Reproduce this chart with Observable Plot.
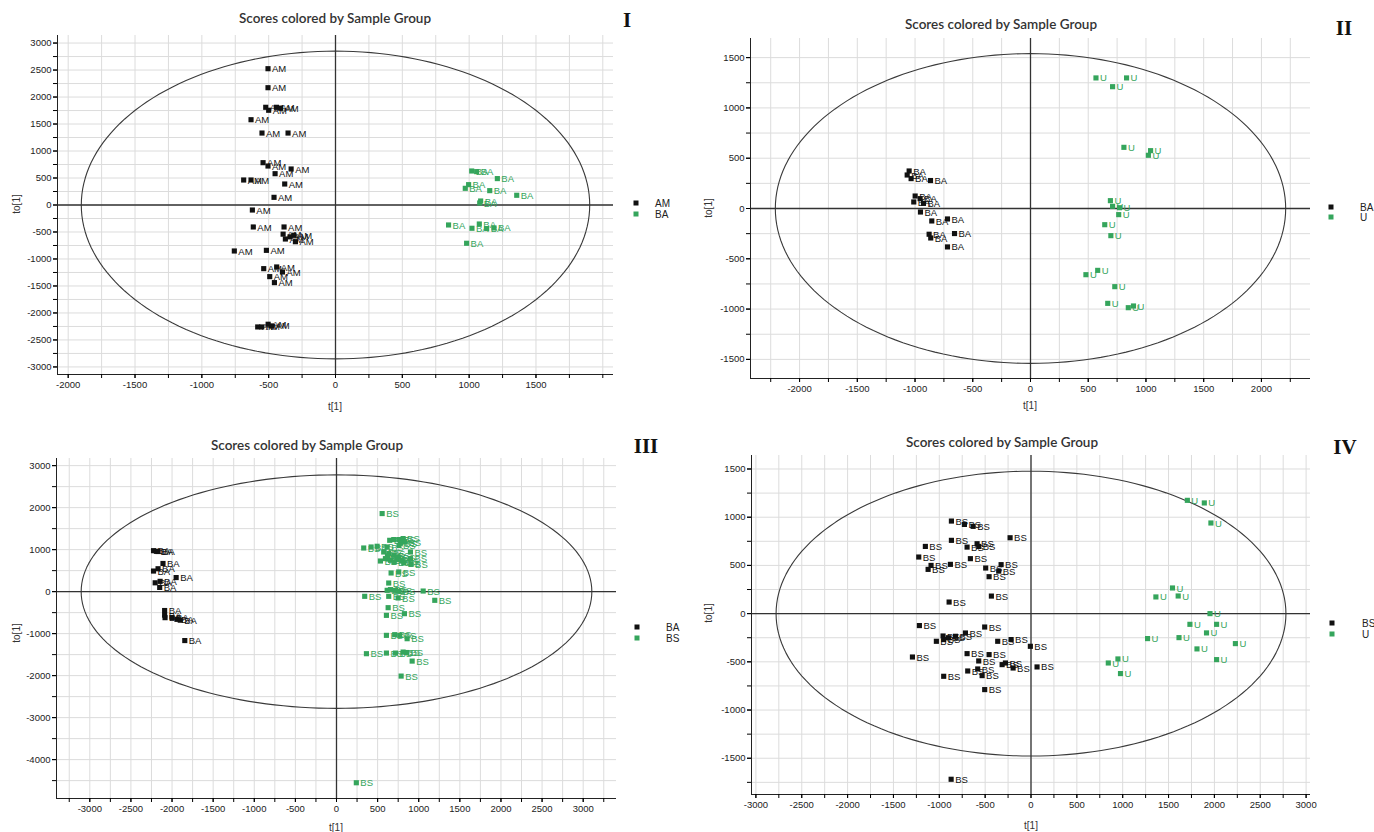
<!DOCTYPE html>
<html><head><meta charset="utf-8">
<script src="https://cdn.jsdelivr.net/npm/d3@7"></script>
<script src="https://cdn.jsdelivr.net/npm/@observablehq/plot@0.6"></script>
<style>
html,body{margin:0;padding:0;background:#fff;}
#root{position:relative;width:1374px;height:832px;overflow:hidden;background:#fff;font-family:"Liberation Sans",Arial,sans-serif;}
.panel{position:absolute;}
.title{position:absolute;font-family:Lato,"Open Sans",sans-serif;font-size:13.5px;font-weight:600;color:#333;transform:translate(-50%,-50%);white-space:nowrap;}
.roman{position:absolute;font-family:"Liberation Serif","Times New Roman",serif;font-weight:bold;font-size:21px;color:#111;transform:translate(-50%,-50%);}
.lab{position:absolute;font-size:10px;color:#333;transform:translate(-50%,-50%);white-space:nowrap;}
.ylab{position:absolute;font-size:10px;color:#333;transform:translate(-50%,-50%) rotate(-90deg);white-space:nowrap;}
.legsq{position:absolute;width:5px;height:5px;transform:translate(-50%,-50%);}
.legtx{position:absolute;font-size:10px;color:#222;transform:translate(0,-50%);}
</style>
</head><body><div id="root"></div>
<script>
const black = "#111111", green = "#35a55c";
const titleText = "Scores colored by Sample Group";

// ---- Panel I ----
const p1AM = [[-505,2525],[-505,2173],[-522,1810],[-500,1755],[-442,1810],[-412,1795],[-632,1580],[-550,1333],[-355,1333],[-542,784],[-505,722],[-332,667],[-452,580],[-687,463],[-632,463],[-380,389],[-460,142],[-622,-93],[-615,-407],[-385,-407],[-392,-540],[-312,-560],[-375,-630],[-300,-680],[-340,-590],[-757,-852],[-517,-840],[-537,-1179],[-440,-1148],[-397,-1241],[-492,-1327],[-457,-1438],[-582,-2259],[-552,-2259],[-504,-2209],[-479,-2240]];
const p1BA = [[1019,630],[1056,618],[1211,489],[996,377],[971,309],[1154,266],[1356,180],[1086,74],[1079,37],[846,-370],[1076,-352],[1021,-431],[1131,-437],[1186,-425],[981,-709]];
const p1XTicks = [-2000,-1500,-1000,-500,0,500,1000,1500];
const p1YTicks = [-3000,-2500,-2000,-1500,-1000,-500,0,500,1000,1500,2000,2500,3000];

// ---- Panel II ----
const p2BA = [[-1051,373],[-1068,333],[-1034,297],[-866,278],[-999,124],[-956,98],[-1011,65],[-927,51],[-953,-35],[-855,-124],[-719,-104],[-878,-256],[-864,-293],[-658,-249],[-719,-382]];
const p2U = [[567,1298],[832,1298],[711,1211],[809,608],[1040,575],[1021,529],[692,78],[711,22],[771,8],[764,-61],[643,-161],[696,-270],[480,-658],[582,-615],[730,-777],[669,-943],[847,-986],[892,-969]];
const p2XTicks = [-2000,-1500,-1000,-500,0,500,1000,1500,2000];
const p2YTicks = [-1500,-1000,-500,0,500,1000,1500];

// ---- Panel III ----
const p3BA = [[-2225,975],[-2190,960],[-2170,955],[-2110,670],[-2170,545],[-2225,490],[-1950,335],[-2145,245],[-2205,210],[-2150,100],[-2090,-450],[-2090,-560],[-2085,-620],[-2000,-620],[-1940,-660],[-1900,-680],[-1845,-1165]];
const p3BS = [[555,1859],[647,1222],[696,1239],[757,1239],[810,1263],[826,1182],[777,1158],[331,1039],[421,1063],[494,1080],[616,1063],[574,944],[635,906],[696,865],[757,825],[899,944],[595,786],[656,746],[737,762],[798,729],[534,729],[899,786],[907,651],[818,682],[700,700],[620,850],[760,1100],[664,444],[757,468],[635,205],[616,31],[656,48],[717,31],[757,7],[1054,14],[343,-112],[635,-112],[749,-151],[1195,-207],[628,-382],[607,-565],[826,-525],[607,-1041],[708,-1025],[769,-1041],[859,-1121],[364,-1478],[607,-1463],[717,-1463],[810,-1439],[850,-1450],[920,-1654],[786,-2011],[241,-4551]];
const p3XTicks = [-3000,-2500,-2000,-1500,-1000,-500,0,500,1000,1500,2000,2500,3000];
const p3YTicks = [-4000,-3000,-2000,-1000,0,1000,2000,3000];

// ---- Panel IV ----
const p4BS = [[-868,960],[-726,925],[-631,905],[-228,787],[-868,760],[-1152,697],[-697,690],[-588,725],[-570,697],[-1224,587],[-661,570],[-1090,500],[-1122,459],[-879,511],[-494,473],[-326,508],[-352,441],[-457,383],[-432,182],[-893,120],[-1217,-124],[-505,-139],[-959,-232],[-900,-250],[-824,-235],[-715,-201],[-952,-269],[-1032,-287],[-363,-287],[-217,-269],[-7,-339],[-1293,-450],[-697,-415],[-457,-425],[-570,-491],[-315,-529],[-279,-512],[-195,-564],[66,-553],[-952,-650],[-690,-595],[-581,-574],[-533,-643],[-505,-788],[-871,-1718]];
const p4U = [[1705,1175],[1890,1148],[1962,940],[1543,266],[1362,173],[1605,183],[1952,0],[1733,-111],[2024,-111],[1914,-200],[1271,-259],[1614,-249],[2229,-311],[1810,-366],[2024,-477],[948,-470],[843,-512],[976,-622]];
const p4XTicks = [-3000,-2500,-2000,-1500,-1000,-500,0,500,1000,1500,2000,2500,3000];
const p4YTicks = [-1500,-1000,-500,0,500,1000,1500];

// Hotelling ellipse semi-axes per panel
const ellipseI = [1902, 2850], ellipseII = [2210, 1540], ellipseIII = [3105, 2780], ellipseIV = [2780, 1477];

const panels = [
  {roman:"I", box:[0,0,640,415], frame:[57,35,613,374], xd:[-2080,2080], yd:[-3140,3140], xt:p1XTicks, yt:p1YTicks, xMinor:250, yMinor:250, yGrid:250, ell:ellipseI,
   groups:[{name:"AM", pts:p1AM, color:black},{name:"BA", pts:p1BA, color:green}],
   title:[335,18], rom:[627,20], tl:[335,406], yl:[16,204], leg:[636,655,203,214]},
  {roman:"II", box:[690,0,650,415], frame:[750,38,1310,378], xd:[-2425,2425], yd:[-1690,1690], xt:p2XTicks, yt:p2YTicks, xMinor:250, yMinor:250, yGrid:250, ell:ellipseII,
   groups:[{name:"BA", pts:p2BA, color:black},{name:"U", pts:p2U, color:green}],
   title:[1001,24], rom:[1344,28], tl:[1030,405], yl:[708,208], leg:[1331,1360,207,217]},
  {roman:"III", box:[0,420,640,412], frame:[56,458,616,798], xd:[-3405,3405], yd:[-4926,3170], xt:p3XTicks, yt:p3YTicks, xMinor:250, yMinor:500, yGrid:500, ell:ellipseIII,
   groups:[{name:"BA", pts:p3BA, color:black},{name:"BS", pts:p3BS, color:green}],
   title:[307,445], rom:[646,446], tl:[336,827], yl:[16,633], leg:[637,666,627,638]},
  {roman:"IV", box:[690,420,650,412], frame:[751,455,1310,794], xd:[-3048,3048], yd:[-1876,1640], xt:p4XTicks, yt:p4YTicks, xMinor:250, yMinor:250, yGrid:250, ell:ellipseIV,
   groups:[{name:"BS", pts:p4BS, color:black},{name:"U", pts:p4U, color:green}],
   title:[1002,442], rom:[1345,447], tl:[1031,825], yl:[708,613], leg:[1332,1362,623,634]}
];

const root = document.getElementById("root");
function rangeIn(lo, hi, step){ const out=[]; for(let v=Math.ceil(lo/step)*step; v<=hi; v+=step) out.push(v); return out; }
function addDiv(cls, x, y, text, extra){ const d=document.createElement("div"); d.className=cls; d.style.left=x+"px"; d.style.top=y+"px"; if(text!=null) d.textContent=text; if(extra) Object.assign(d.style, extra); root.appendChild(d); return d; }

for (const p of panels) {
  const [L,T,W,H] = p.box, [fl,ft,fr,fb] = p.frame;
  const ellipse = d3.range(0, 361, 2).map(a => ({x: p.ell[0]*Math.cos(a*Math.PI/180), y: p.ell[1]*Math.sin(a*Math.PI/180)}));
  const marks = [
    Plot.gridX(rangeIn(p.xd[0], p.xd[1], 250), {stroke:"#dcdcdc", strokeOpacity:1, strokeWidth:1}),
    Plot.gridY(rangeIn(p.yd[0], p.yd[1], p.yGrid), {stroke:"#dcdcdc", strokeOpacity:1, strokeWidth:1}),
    Plot.line(ellipse, {x:"x", y:"y", stroke:"#3a3a3a", strokeWidth:1.1}),
    Plot.ruleX([0], {stroke:"#333", strokeWidth:1.3}),
    Plot.ruleY([0], {stroke:"#333", strokeWidth:1.3}),
    Plot.ruleX([p.xd[0]], {stroke:"#222", strokeWidth:1}),
    Plot.ruleY([p.yd[0]], {stroke:"#222", strokeWidth:1}),
    Plot.axisY(p.yt, {anchor:"left", tickSize:4, tickPadding:2, fontSize:9.5, tickFormat:d=>String(d), label:null, fill:"#222"}),
    Plot.axisY(rangeIn(p.yd[0], p.yd[1], p.yMinor), {anchor:"left", tickSize:4, text:null, label:null}),
    Plot.axisX(p.xt, {anchor:"bottom", tickSize:4, tickPadding:3, fontSize:9.5, tickFormat:d=>String(d), label:null, fill:"#222"}),
    Plot.axisX(rangeIn(p.xd[0], p.xd[1], p.xMinor), {anchor:"bottom", tickSize:4, text:null, label:null})
  ];
  for (const g of p.groups) {
    const rows = g.pts.map(([x,y]) => ({x, y, label:g.name}));
    marks.push(Plot.dot(rows, {x:"x", y:"y", symbol:"square", r:2.9, fill:g.color, stroke:null}));
    marks.push(Plot.text(rows, {x:"x", y:"y", text:"label", dx:4, dy:0.5, textAnchor:"start", fill:g.color, fontSize:9.5}));
  }
  const svg = Plot.plot({
    width:W, height:H,
    marginLeft: fl-L, marginTop: ft-T, marginRight: L+W-fr, marginBottom: T+H-fb,
    x:{domain:p.xd}, y:{domain:p.yd},
    style:{fontFamily:"'Liberation Sans', Arial, sans-serif", fontSize:"9.5px", background:"transparent", overflow:"visible"},
    marks
  });
  const wrap = document.createElement("div");
  wrap.className = "panel"; wrap.style.left = L+"px"; wrap.style.top = T+"px";
  wrap.appendChild(svg); root.appendChild(wrap);

  addDiv("title", p.title[0], p.title[1], titleText);
  addDiv("roman", p.rom[0], p.rom[1], p.roman);
  addDiv("lab", p.tl[0], p.tl[1], "t[1]");
  addDiv("ylab", p.yl[0], p.yl[1], "to[1]");
  const [sx, tx, y1, y2] = p.leg;
  p.groups.forEach((g, i) => {
    const yy = i === 0 ? y1 : y2;
    addDiv("legsq", sx, yy, null, {background:g.color});
    addDiv("legtx", tx, yy, g.name);
  });
}
</script>
</body></html>
